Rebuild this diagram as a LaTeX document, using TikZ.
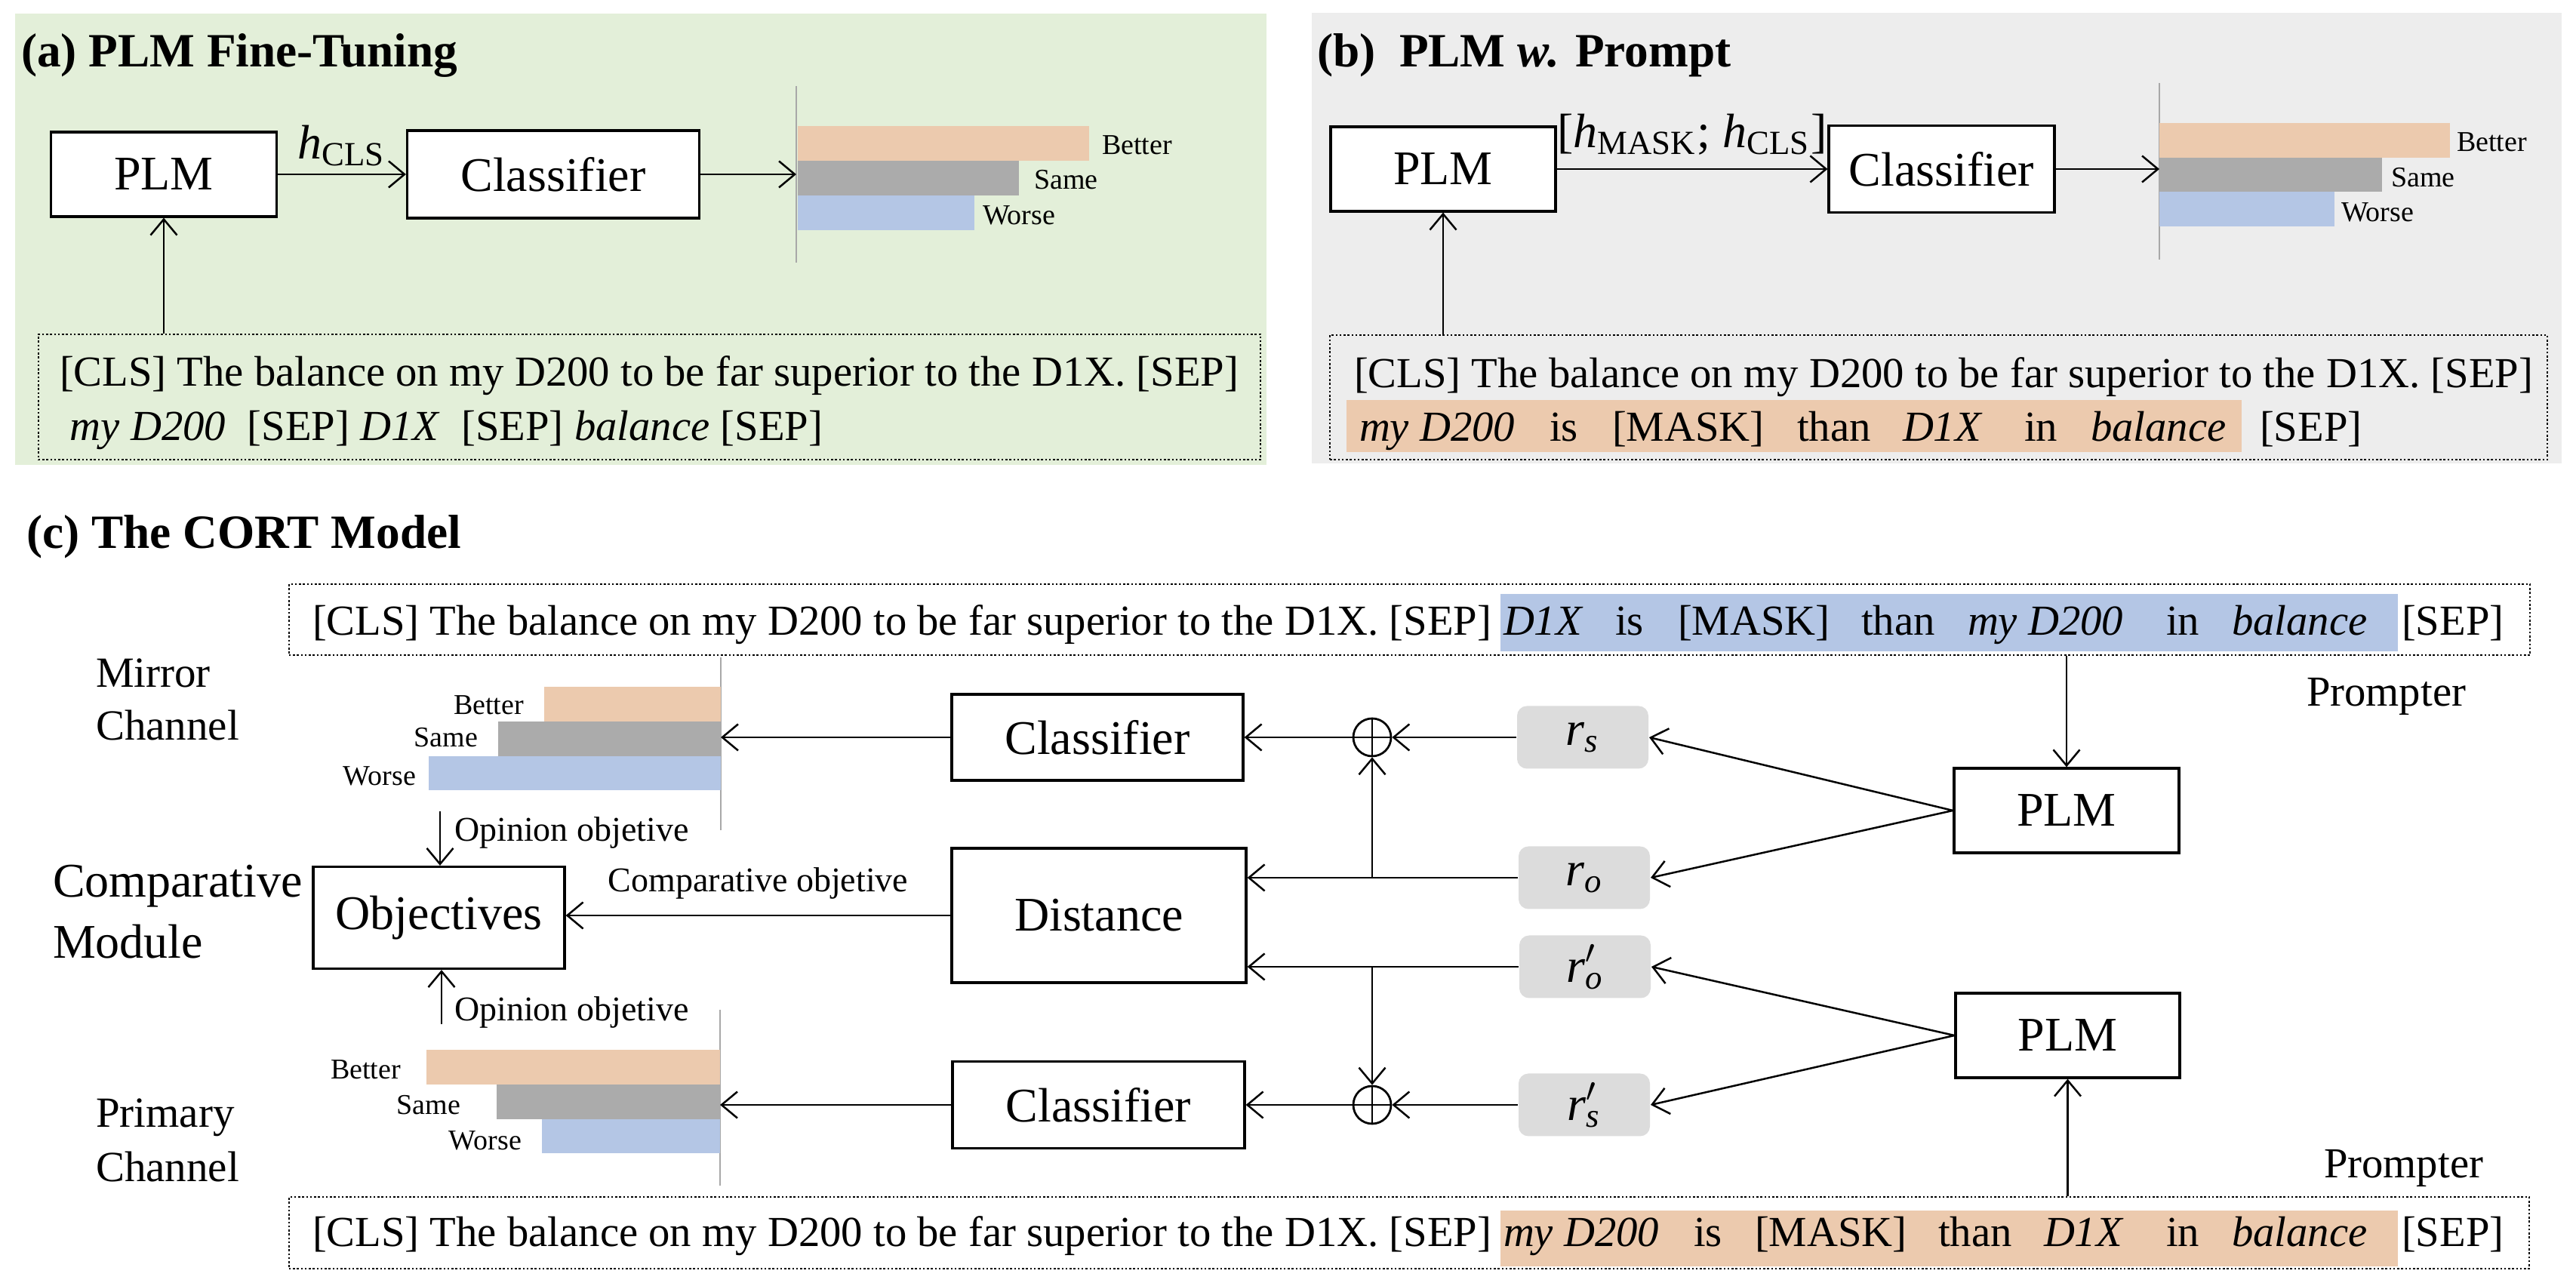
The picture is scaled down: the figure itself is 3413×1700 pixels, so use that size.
\documentclass[tikz,border=0pt]{standalone}
\usepackage{fontspec}
\setmainfont{Liberation Serif}
\usetikzlibrary{arrows.meta,calc}
\newcommand\boxfont{\fontsize{12.8}{15}\selectfont}
\newcommand\sentfont{\fontsize{11.34}{13}\selectfont}
\newcommand\titlefont{\fontsize{12.66}{15}\selectfont\bfseries}
\newcommand\smallfont{\fontsize{9.2}{11}\selectfont}
\newcommand\barfont{\fontsize{7.6}{9}\selectfont}
\newcommand\sidefont{\fontsize{11.4}{13}\selectfont}
\newcommand\bigside{\fontsize{12.8}{15}\selectfont}
\newcommand\rsym[1]{\textit{r}\textsubscript{\textit{#1}}}
\newcommand\rpsym[1]{\textit{r}\rlap{\raisebox{0.1ex}{$'$}}\textsubscript{\textit{#1}}}
\definecolor{bgGreen}{HTML}{E3EFD9}
\definecolor{bgGray}{HTML}{EDEDED}
\definecolor{cOr}{HTML}{ECCAAE}
\definecolor{cGr}{HTML}{ABABAB}
\definecolor{cBl}{HTML}{B4C6E5}
\definecolor{rGray}{HTML}{DCDCDC}
\definecolor{axGray}{HTML}{A8A8A8}
\begin{document}
\begin{tikzpicture}[x=0.2pt,y=-0.2pt,
  blk/.style={draw, line width=0.65pt, fill=white, inner sep=0pt, font=\boxfont},
  rbox/.style={fill=rGray, rounded corners=2.6pt, inner sep=0pt, font=\boxfont, minimum width=34.8pt, minimum height=16.6pt},
  arr/.style={-{Straight Barb[length=4.2pt,width=7pt,line width=0.5pt]}, line width=0.5pt},
  lnk/.style={line width=0.5pt},
  axisln/.style={draw=axGray, line width=0.45pt},
  dotbox/.style={draw, line width=0.5pt, dash pattern=on 0.5pt off 0.55pt, inner sep=0pt},
  word/.style={anchor=base west, inner sep=0pt, font=\sentfont},
  barlab/.style={inner sep=0pt, font=\barfont},
  lab/.style={inner sep=0pt},
  opl/.style={circle, draw, line width=0.55pt, minimum size=10pt, inner sep=0pt}
]
\useasboundingbox (0,0) rectangle (3413,1700);
\fill[white] (0,0) rectangle (3413,1700);

%% ---------------- (a) ----------------
\fill[bgGreen] (20,18) rectangle (1678,616);
\node[lab, anchor=base west, font=\titlefont] (titleA) at (27,89) {(a) PLM Fine-Tuning};
\node[blk, minimum width=59.8pt, minimum height=22.4pt] (plmA) at (217,231) {PLM};
\node[blk, minimum width=77.4pt, minimum height=23.2pt] (clsA) at (733,231) {Classifier};
\draw[arr] (plmA.east) -- node[above, inner sep=2pt, font=\boxfont] (hA) {\textit{h}\textsubscript{CLS}} (clsA.west);
\draw[axisln] (1055,114) -- (1055,348);
\fill[cOr] (1057,167) rectangle (1443,213);
\fill[cGr] (1057,213) rectangle (1350,259);
\fill[cBl] (1057,259) rectangle (1291,305);
\node[barlab, anchor=base west] (betA) at (1459,205) {Better};
\node[barlab, anchor=base west] (samA) at (1369,251) {Same};
\node[barlab, anchor=base west] (worA) at (1301,298) {Worse};
\coordinate (barA) at (1055,231);
\draw[arr] (clsA.east) -- (barA);
\node[dotbox, minimum width=323.8pt, minimum height=33.2pt] (txtA) at (860.5,526) {};
\node[word] (a1) at (78,512) {[CLS] The balance on my D200 to be far superior to the D1X. [SEP]};
\node[word] (a2) at (92,584) {\textit{my D200}\ \ [SEP] \textit{D1X}\ \ [SEP] \textit{balance} [SEP]};
\draw[arr] (plmA.south |- txtA.north) -- (plmA.south);

%% ---------------- (b) ----------------
\fill[bgGray] (1738,17) rectangle (3394,614);
\node[lab, anchor=base west, font=\titlefont] (titleB) at (1744,89) {(b)\ \ PLM \textit{w.} Prompt};
\node[blk, minimum width=59.6pt, minimum height=22.4pt] (plmB) at (1912,224) {PLM};
\node[blk, minimum width=59.8pt, minimum height=23pt] (clsB) at (2572.5,224) {Classifier};
\draw[arr] (plmB.east) -- node[above, inner sep=3.5pt, font=\boxfont] (hB) {[\textit{h}\textsubscript{MASK}; \textit{h}\textsubscript{CLS}]} (clsB.west);
\draw[axisln] (2861,110) -- (2861,344);
\fill[cOr] (2861,163) rectangle (3246,209);
\fill[cGr] (2861,209) rectangle (3156,254);
\fill[cBl] (2861,254) rectangle (3093,300);
\node[barlab, anchor=base west] (betB) at (3254,201) {Better};
\node[barlab, anchor=base west] (samB) at (3167,248) {Same};
\node[barlab, anchor=base west] (worB) at (3101,294) {Worse};
\coordinate (barB) at (2861,224);
\draw[arr] (clsB.east) -- (barB);
\node[dotbox, minimum width=322.6pt, minimum height=33pt] (txtB) at (2568.5,526.5) {};
\fill[cOr] (1784,530) rectangle (2970,599);
\node[word] (bl1) at (1793,514) {[CLS] The balance on my D200 to be far superior to the D1X. [SEP]};
\node[word] (b1) at (1800,585) {\textit{my D200}};
\node[word] (b2) at (2052,585) {is};
\node[word] (b3) at (2135,585) {[MASK]};
\node[word] (b4) at (2380,585) {than};
\node[word] (b5) at (2520,585) {\textit{D1X}};
\node[word] (b6) at (2681,585) {in};
\node[word] (b7) at (2769,585) {\textit{balance}};
\node[word] (b8) at (2993,585) {[SEP]};
\draw[arr] (plmB.south |- txtB.north) -- (plmB.south);

%% ---------------- (c) ----------------
\node[lab, anchor=base west, font=\titlefont] (titleC) at (34,727) {(c) The CORT Model};
% top prompt
\node[dotbox, minimum width=593.8pt, minimum height=18.8pt] (topC) at (1867.5,821) {};
\fill[cBl] (1988,787) rectangle (3177,863);
\node[word] (t0) at (413,842) {[CLS] The balance on my D200 to be far superior to the D1X. [SEP]};
\node[word] (t1) at (1991,842) {\textit{D1X}};
\node[word] (t2) at (2139,842) {is};
\node[word] (t3) at (2222,842) {[MASK]};
\node[word] (t4) at (2465,842) {than};
\node[word] (t5) at (2606,842) {\textit{my D200}};
\node[word] (t6) at (2869,842) {in};
\node[word] (t7) at (2956,842) {\textit{balance}};
\node[word] (t8) at (3181,842) {[SEP]};
% bottom prompt
\node[dotbox, minimum width=593.6pt, minimum height=19pt] (botC) at (1867,1633.5) {};
\fill[cOr] (1988,1604) rectangle (3177,1678);
\node[word] (u0) at (413,1652) {[CLS] The balance on my D200 to be far superior to the D1X. [SEP]};
\node[word] (u1) at (1991,1652) {\textit{my D200}};
\node[word] (u2) at (2243,1652) {is};
\node[word] (u3) at (2324,1652) {[MASK]};
\node[word] (u4) at (2567,1652) {than};
\node[word] (u5) at (2707,1652) {\textit{D1X}};
\node[word] (u6) at (2869,1652) {in};
\node[word] (u7) at (2956,1652) {\textit{balance}};
\node[word] (u8) at (3181,1652) {[SEP]};

% side labels
\node[lab, anchor=base west, font=\sidefont, align=left] (mir1) at (126,911) {Mirror};
\node[lab, anchor=base west, font=\sidefont] (mir2) at (126,981) {Channel};
\node[lab, anchor=base west, font=\bigside] (cmp1) at (69,1189) {Comparative};
\node[lab, anchor=base west, font=\bigside] (cmp2) at (69,1270) {Module};
\node[lab, anchor=base west, font=\sidefont] (pri1) at (126,1494) {Primary};
\node[lab, anchor=base west, font=\sidefont] (pri2) at (126,1566) {Channel};
\node[lab, anchor=base west, font=\sentfont] (prT) at (3055,936) {Prompter};
\node[lab, anchor=base west, font=\sentfont] (prB) at (3078,1561) {Prompter};

% mirror bars
\draw[axisln] (955,871) -- (955,1100);
\fill[cOr] (721,910) rectangle (955,956);
\fill[cGr] (660,956) rectangle (955,1002);
\fill[cBl] (568,1002) rectangle (955,1047);
\node[barlab, anchor=base east] (betM) at (695,947) {Better};
\node[barlab, anchor=base east] (samM) at (634,990) {Same};
\node[barlab, anchor=base east] (worM) at (552,1041) {Worse};
% primary bars
\draw[axisln] (954,1338) -- (954,1571);
\fill[cOr] (565,1391) rectangle (954,1437);
\fill[cGr] (658,1437) rectangle (954,1483);
\fill[cBl] (718,1483) rectangle (954,1528);
\node[barlab, anchor=base east] (betP) at (532,1430) {Better};
\node[barlab, anchor=base east] (samP) at (611,1477) {Same};
\node[barlab, anchor=base east] (worP) at (692,1524) {Worse};

% boxes
\node[blk, minimum width=66.6pt, minimum height=27pt] (obj) at (581.5,1216) {Objectives};
\node[blk, minimum width=77.2pt, minimum height=22.8pt] (clsT) at (1454,977) {Classifier};
\node[blk, minimum width=78pt, minimum height=35.6pt] (dist) at (1456,1213) {Distance};
\node[blk, minimum width=77.4pt, minimum height=23pt] (clsP) at (1455.5,1464) {Classifier};
\node[blk, minimum width=59.6pt, minimum height=22.4pt] (plmT) at (2738,1074) {PLM};
\node[blk, minimum width=59.4pt, minimum height=22.4pt] (plmP) at (2739.5,1372) {PLM};
\node[rbox] (rs) at (2097,977) {\rsym{s}};
\node[rbox] (ro) at (2099,1163) {\rsym{o}};
\node[rbox] (rop) at (2100,1281) {\rpsym{o}};
\node[rbox] (rsp) at (2099,1464) {\rpsym{s}};
\node[opl] (opT) at (1818,977) {};
\node[opl] (opP) at (1818,1464) {};
\draw[lnk] (opT.north) -- (opT.south) (opT.west) -- (opT.east);
\draw[lnk] (opP.north) -- (opP.south) (opP.west) -- (opP.east);

% connectors
\draw[arr] (plmT.north |- topC.south) -- (plmT.north);
\draw[arr] (plmP.south |- botC.north) -- (plmP.south);
\draw[arr] (plmT.west) -- (rs.east);
\draw[arr] (plmT.west) -- (ro.east);
\draw[arr] (plmP.west) -- (rop.east);
\draw[arr] (plmP.west) -- (rsp.east);
\draw[arr] (rs.west) -- (opT.east);
\draw[arr] (rsp.west) -- (opP.east);
\draw[arr] (opT.west) -- (clsT.east);
\draw[arr] (opP.west) -- (clsP.east);
\draw[arr] (ro.west) -- (ro.west -| dist.east);
\draw[arr] (rop.west) -- (rop.west -| dist.east);
\draw[arr] (ro.west -| opT.south) -- (opT.south);
\draw[arr] (rop.west -| opP.north) -- (opP.north);
\coordinate (barM) at (955,977);
\coordinate (barP) at (954,1464);
\draw[arr] (clsT.west) -- (barM);
\draw[arr] (clsP.west) -- (barP);
\draw[arr] (dist.west) -- node[above, inner sep=4pt, font=\smallfont] (cmpObj) {Comparative objetive} (dist.west -| obj.east);
\coordinate (opinT) at (583,1075);
\coordinate (opinP) at (585,1357);
\draw[arr] (opinT) -- (opinT |- obj.north);
\draw[arr] (opinP) -- (opinP |- obj.south);
\node[lab, anchor=base west, font=\smallfont] (opLabT) at (601,1115) {Opinion objetive};
\node[lab, anchor=base west, font=\smallfont] (opLabP) at (601,1353) {Opinion objetive};
\end{tikzpicture}
\end{document}
